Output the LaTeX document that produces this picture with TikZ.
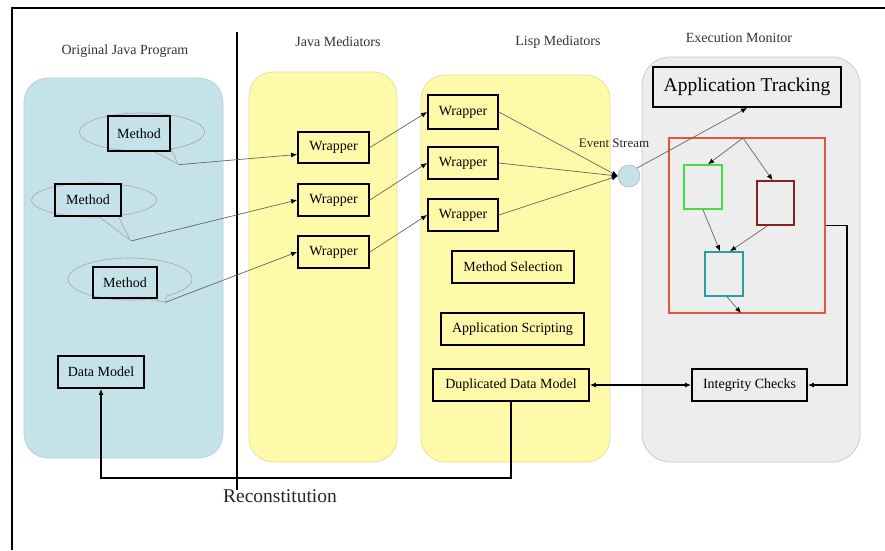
\documentclass[tikz,border=0pt]{standalone}
\usepackage{fontspec}
\setmainfont{Liberation Serif}
\usetikzlibrary{arrows.meta,shapes.callouts,shapes.geometric,calc}

\definecolor{progblue}{RGB}{197,226,232}
\definecolor{progedge}{RGB}{180,212,218}
\definecolor{medyellow}{RGB}{255,250,170}
\definecolor{mededge}{RGB}{228,222,150}
\definecolor{monitorgray}{RGB}{237,237,237}
\definecolor{monitoredge}{RGB}{200,200,200}
\definecolor{trackred}{RGB}{226,86,60}
\definecolor{stategreen}{RGB}{70,220,70}
\definecolor{statebrown}{RGB}{130,35,35}
\definecolor{stateteal}{RGB}{40,158,165}

\tikzset{
  panel/.style={rounded corners=24pt, line width=0.7pt},
  box/.style={draw=black, line width=1.8pt, inner sep=0pt, text=black,
    font=\fontsize{14}{16}\selectfont},
  title/.style={font=\fontsize{14}{16}\selectfont, text=black!80},
  methodcallout/.style={ellipse callout, draw=black!35, fill=progblue,
    line width=0.6pt, callout pointer arc=18},
  link/.style={draw=black!60, line width=0.7pt,
    -{Latex[length=6pt,width=5pt,black]}},
  heavy/.style={draw=black, line width=1.6pt},
  statebox/.style={draw, line width=1.6pt, fill=monitorgray,
    minimum width=38pt, minimum height=44pt, inner sep=0pt},
}

\begin{document}
\begin{tikzpicture}[x=1pt,y=-1pt]
  % page
  \fill[white] (0,0) rectangle (885,550);
  \useasboundingbox (0,0) rectangle (885,550);

  % frame lines
  \draw[line width=2pt] (12,550) -- (12,8) -- (885,8);

  % column panels
  \draw[panel, fill=progblue, draw=progedge] (24,78) rectangle (223,458);
  \draw[panel, fill=medyellow, draw=mededge] (249,72) rectangle (397,462);
  \draw[panel, fill=medyellow, draw=mededge] (421,75) rectangle (610,462);
  \draw[panel, rounded corners=28pt, fill=monitorgray, draw=monitoredge]
    (642,57) rectangle (860,462);

  % separator between the original program and the mediators
  \draw[line width=1.8pt] (237,32) -- (237,490);

  % column titles
  \node[title] (t1) at (125,51) {Original Java Program};
  \node[title] (t2) at (338,42) {Java Mediators};
  \node[title] (t3) at (558,42) {Lisp Mediators};
  \node[title] (t4) at (739,38) {Execution Monitor};

  % original program: methods as callouts
  \node[methodcallout, minimum width=125pt, minimum height=38pt,
    callout absolute pointer={(178,164)}] (c1) at (142,132) {};
  \node[methodcallout, minimum width=125pt, minimum height=34pt,
    callout absolute pointer={(130,240)}] (c2) at (94,200) {};
  \node[methodcallout, minimum width=124pt, minimum height=42pt,
    callout absolute pointer={(165,302)}] (c3) at (130,279) {};

  \node[box, minimum width=62pt, minimum height=35pt] (m1) at (139,133.5) {Method};
  \node[box, minimum width=66pt, minimum height=32pt] (m2) at (88,200) {Method};
  \node[box, minimum width=64pt, minimum height=31pt] (m3) at (125,282.5) {Method};
  \node[box, minimum width=86pt, minimum height=32pt] (dm) at (101,372) {Data Model};

  % Java mediators
  \node[box, minimum width=71pt, minimum height=31pt] (jw1) at (333.5,147.5) {Wrapper};
  \node[box, minimum width=71pt, minimum height=32pt] (jw2) at (333.5,200) {Wrapper};
  \node[box, minimum width=71pt, minimum height=32pt] (jw3) at (333.5,252) {Wrapper};

  % Lisp mediators
  \node[box, minimum width=70pt, minimum height=34pt] (lw1) at (463,112) {Wrapper};
  \node[box, minimum width=70pt, minimum height=32pt] (lw2) at (463,163) {Wrapper};
  \node[box, minimum width=70pt, minimum height=32pt] (lw3) at (463,215) {Wrapper};
  \node[box, minimum width=122pt, minimum height=32pt] (sel) at (513,267) {Method Selection};
  \node[box, minimum width=143pt, minimum height=32pt] (scr) at (512.5,329) {Application Scripting};
  \node[box, minimum width=156pt, minimum height=32pt] (ddm) at (511,385) {Duplicated Data Model};

  % event stream
  \node[circle, draw=black!35, fill=progblue, minimum size=22pt, inner sep=0pt] (ev) at (629,176) {};
  \node[font=\fontsize{13}{15}\selectfont, text=black!85] (evl) at (614,143) {Event Stream};

  % execution monitor
  \node[box, line width=2pt, minimum width=188pt, minimum height=40pt,
    font=\fontsize{19.5}{22}\selectfont, fill=monitorgray] (track) at (747,87) {Application Tracking};
  \node[draw=trackred, line width=2pt, minimum width=156pt, minimum height=175pt,
    inner sep=0pt] (states) at (747,225.5) {};
  \node[statebox, draw=stategreen] (sg) at (703,187) {};
  \node[statebox, draw=statebrown, minimum width=37pt] (sb) at (775.5,203) {};
  \node[statebox, draw=stateteal] (st) at (724,274) {};
  \node[box, minimum width=115pt, minimum height=32pt] (chk) at (749.5,385) {Integrity Checks};

  % method calls into the Java wrappers
  \draw[link] (c1.pointer) -- ([yshift=-7pt]jw1.west);
  \draw[link] (c2.pointer) -- (jw2.west);
  \draw[link] (c3.pointer) -- (jw3.west);

  % Java wrappers to Lisp wrappers
  \draw[link] (jw1.east) -- (lw1.west);
  \draw[link] (jw2.east) -- (lw2.west);
  \draw[link] (jw3.east) -- (lw3.west);

  % Lisp wrappers feed the event stream
  \draw[link] (lw1.east) -- (ev.west);
  \draw[link] (lw2.east) -- (ev.west);
  \draw[link] (lw3.east) -- (ev.west);
  \draw[link] (ev.north east) -- (track.south);

  % state transitions inside the tracker
  \coordinate (fork) at (743,138);
  \draw[link] (fork) -- ([xshift=5pt]sg.north);
  \draw[link] (fork) -- ([xshift=-3pt]sb.north);
  \draw[link] (sg.south) -- ([xshift=-4pt]st.north);
  \draw[link] ([xshift=-8pt]sb.south) -- ([xshift=6pt]st.north);
  \coordinate (exit) at (741,313);
  \draw[link] ([xshift=3pt]st.south) -- (exit);

  % tracker result to integrity checks
  \draw[heavy, -{Latex[length=6pt,width=5pt]}] (states.east) -- ++(21,0) |- (chk.east);
  \draw[heavy, {Latex[length=6pt,width=5pt]}-{Latex[length=6pt,width=5pt]}] (ddm.east) -- (chk.west);

  % reconstitution back into the original data model
  \draw[heavy, -{Latex[length=6pt,width=5pt]}] (ddm.south) -- ++(0,76) -| (dm.south);
  \node[font=\fontsize{19.5}{22}\selectfont, text=black!85] (recon) at (280,496) {Reconstitution};
\end{tikzpicture}
\end{document}
